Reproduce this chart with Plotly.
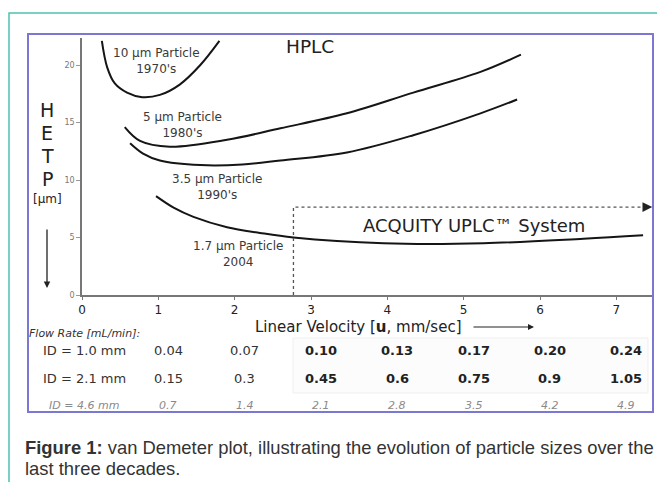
import plotly.graph_objects as go

# ---------------- data ----------------
u_10um = [0.26, 0.33, 0.43, 0.59, 0.79, 1.02, 1.28, 1.55, 1.80]
h_10um = [22.1, 19.8, 18.4, 17.6, 17.2, 17.4, 18.3, 20.0, 22.1]

u_5um = [0.56, 0.76, 1.15, 1.90, 2.60, 3.47, 4.34, 5.22, 5.75]
h_5um = [14.6, 13.4, 12.9, 13.5, 14.5, 15.8, 17.6, 19.4, 20.9]

u_35um = [0.63, 0.80, 1.02, 1.55, 2.10, 2.60, 3.47, 4.34, 5.22, 5.70]
h_35um = [13.2, 12.3, 11.7, 11.3, 11.35, 11.7, 12.4, 13.9, 15.8, 17.0]

u_17um = [0.97, 1.20, 1.46, 1.90, 2.33, 2.77, 3.95, 5.26, 6.57, 7.35]
h_17um = [8.6, 7.6, 6.8, 5.9, 5.4, 5.0, 4.5, 4.5, 4.9, 5.2]

curve_labels = ["10 µm Particle<br>1970's", "5 µm Particle<br>1980's",
                "3.5 µm Particle<br>1990's", "1.7 µm Particle<br>2004"]

x_ticks = [0, 1, 2, 3, 4, 5, 6, 7]
y_ticks = [0, 5, 10, 15, 20]

velocity = [1, 2, 3, 4, 5, 6, 7]
id_labels = ["ID = 1.0 mm", "ID = 2.1 mm", "ID = 4.6 mm"]
flow_id_1_0 = ["0.04", "0.07", "0.10", "0.13", "0.17", "0.20", "0.24"]
flow_id_2_1 = ["0.15", "0.3", "0.45", "0.6", "0.75", "0.9", "1.05"]
flow_id_4_6 = ["0.7", "1.4", "2.1", "2.8", "3.5", "4.2", "4.9"]

uplc_start_u = 2.77
uplc_top_h = 7.65

# ---------------- layout geometry (page pixels) ----------------
W, H = 665, 482
OFF = 8                      # default page body margin
PL, PR, PT, PB = 82, 653, 38, 295
X_MAX = 7.48
Y_MAX = 22.35


def xp(px):
    return (px - PL) / (PR - PL)


def yp(py):
    return (PB - py) / (PB - PT)


FONT = "DejaVu Sans"
fig = go.Figure()

for u, h in [(u_10um, h_10um), (u_5um, h_5um), (u_35um, h_35um), (u_17um, h_17um)]:
    fig.add_trace(go.Scatter(x=u, y=h, mode="lines", line=dict(color="#151515", width=2, shape="spline", smoothing=1.0),
                             hoverinfo="skip", showlegend=False))

# UPLC dotted region
fig.add_trace(go.Scatter(x=[uplc_start_u, uplc_start_u, 7.40], y=[0, uplc_top_h, uplc_top_h], mode="lines",
                         line=dict(color="#555555", width=1.3, dash="dot"), hoverinfo="skip", showlegend=False))

ann = []
ann.append(dict(x=7.47, y=uplc_top_h, xref="x", yref="y", ax=-9, ay=0, showarrow=True, arrowhead=2,
                arrowsize=1.3, arrowwidth=1.5, arrowcolor="#222", text=""))

label_pos = [(156, 61), (182, 125), (217, 187), (238, 254)]
for txt, (px, py) in zip(curve_labels, label_pos):
    ann.append(dict(x=xp(px), y=yp(py), xref="paper", yref="paper", text=txt, showarrow=False,
                    font=dict(family=FONT, size=12, color="#3a3a3a"), xanchor="center", yanchor="middle"))

ann.append(dict(x=xp(310), y=yp(46), xref="paper", yref="paper", text="HPLC", showarrow=False,
                font=dict(family=FONT, size=18.5, color="#222"), xanchor="center", yanchor="middle"))
ann.append(dict(x=xp(474), y=yp(225), xref="paper", yref="paper", text="ACQUITY UPLC™ System", showarrow=False,
                font=dict(family=FONT, size=18, color="#222"), xanchor="center", yanchor="middle"))

for letter, py in zip(["H", "E", "T", "P"], [110, 133, 156, 179]):
    ann.append(dict(x=xp(47), y=yp(py), xref="paper", yref="paper", text=letter, showarrow=False,
                    font=dict(family=FONT, size=19, color="#222"), xanchor="center", yanchor="middle"))
ann.append(dict(x=xp(47), y=yp(199), xref="paper", yref="paper", text="[µm]", showarrow=False,
                font=dict(family=FONT, size=12, color="#222"), xanchor="center", yanchor="middle"))
ann.append(dict(x=xp(47), y=yp(288), xref="paper", yref="paper", ax=0, ay=-60, showarrow=True, arrowhead=2,
                arrowsize=1, arrowwidth=1.3, arrowcolor="#222", text=""))

ann.append(dict(x=xp(358), y=yp(327), xref="paper", yref="paper", text="Linear Velocity [<b>u</b>, mm/sec]",
                showarrow=False, font=dict(family=FONT, size=15, color="#222"), xanchor="center", yanchor="middle"))
ann.append(dict(x=xp(534), y=yp(327), xref="paper", yref="paper", ax=-62, ay=0, showarrow=True, arrowhead=2,
                arrowsize=1, arrowwidth=1.2, arrowcolor="#222", text=""))

ann.append(dict(x=xp(27), y=yp(333), xref="paper", yref="paper", text="<i>Flow Rate [mL/min]:</i>",
                showarrow=False, font=dict(family=FONT, size=11, color="#333"), xanchor="left", yanchor="middle"))
row_py = [350, 378, 405]
rows = [flow_id_1_0, flow_id_2_1, flow_id_4_6]
for r, (lab, vals, py) in enumerate(zip(id_labels, rows, row_py)):
    if r < 2:
        lab_txt = lab
        lf = dict(family=FONT, size=13, color="#333")
    else:
        lab_txt = "<i>" + lab + "</i>"
        lf = dict(family=FONT, size=11, color="#8a8a8a")
    ann.append(dict(x=xp(84), y=yp(py), xref="paper", yref="paper", text=lab_txt, showarrow=False,
                    font=lf, xanchor="center", yanchor="middle"))
    for u, v in zip(velocity, vals):
        if r == 2:
            t = "<i>" + v + "</i>"
            f = dict(family=FONT, size=11, color="#8a8a8a")
        elif u >= 3:
            t = "<b>" + v + "</b>"
            f = dict(family=FONT, size=13, color="#222")
        else:
            t = v
            f = dict(family=FONT, size=13, color="#333")
        ann.append(dict(x=u + 0.13, y=yp(py), xref="x", yref="paper", text=t, showarrow=False,
                        font=f, xanchor="center", yanchor="middle"))

CAP = "Liberation Sans"
ann.append(dict(x=xp(23), y=yp(447), xref="paper", yref="paper",
                text="<b>Figure 1:</b> van Demeter plot, illustrating the evolution of particle sizes over the",
                showarrow=False, font=dict(family=CAP, size=18.4, color="#333"), xanchor="left", yanchor="middle"))
ann.append(dict(x=xp(23), y=yp(468), xref="paper", yref="paper", text="last three decades.",
                showarrow=False, font=dict(family=CAP, size=18.4, color="#333"), xanchor="left", yanchor="middle"))

shapes = [
    dict(type="rect", xref="paper", yref="paper", x0=xp(9), x1=xp(700), y0=yp(13), y1=yp(520),
         line=dict(color="#4cc4b0", width=1.5), layer="below"),
    dict(type="rect", xref="paper", yref="paper", x0=xp(293), x1=xp(648), y0=yp(338), y1=yp(393),
         line=dict(color="#efefef", width=1), fillcolor="#fcfcfc", layer="below"),
    dict(type="rect", xref="paper", yref="paper", x0=xp(28), x1=xp(653), y0=yp(34), y1=yp(412),
         line=dict(color="#7a78d2", width=2), layer="above"),
]

fig.update_layout(
    width=W, height=H,
    margin=dict(l=PL - OFF, r=W - (PR - OFF), t=PT - OFF, b=H - (PB - OFF)),
    paper_bgcolor="white", plot_bgcolor="white",
    showlegend=False,
    annotations=ann, shapes=shapes,
    xaxis=dict(range=[0, X_MAX], tickvals=x_ticks, ticktext=[str(t) for t in x_ticks],
               showgrid=False, zeroline=False, showline=True, linecolor="#777", linewidth=1.5,
               ticks="outside", ticklen=3, tickcolor="#777",
               tickfont=dict(family=FONT, size=12, color="#222")),
    yaxis=dict(range=[0, Y_MAX], tickvals=y_ticks, ticktext=[str(t) for t in y_ticks],
               showgrid=False, zeroline=False, showline=True, linecolor="#777", linewidth=1.5,
               ticks="outside", ticklen=4, tickcolor="#999",
               tickfont=dict(family=FONT, size=8, color="#777")),
)

fig.write_html("out.html")
